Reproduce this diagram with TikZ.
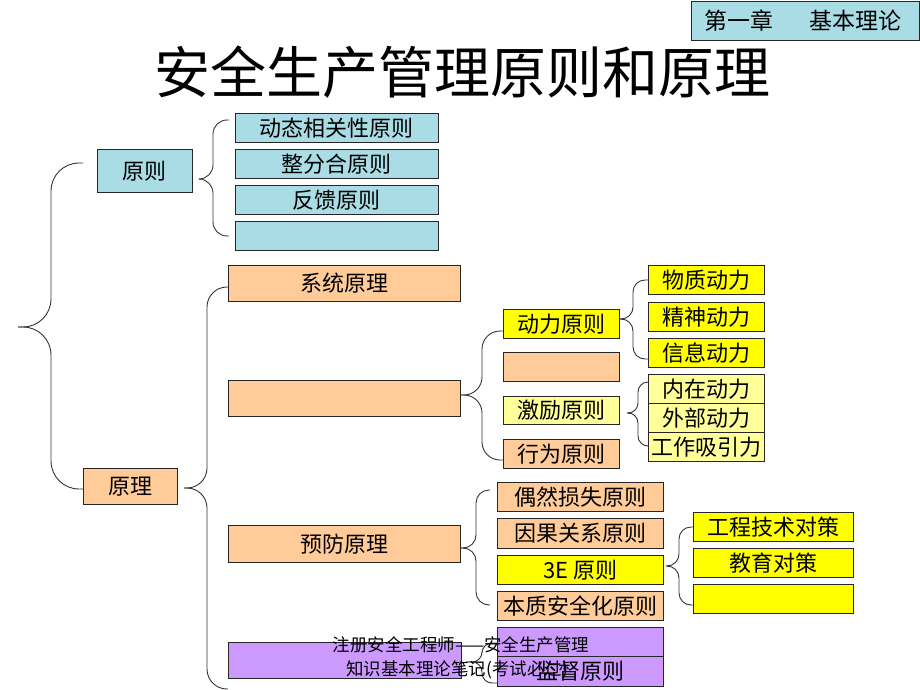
\documentclass[tikz,border=0pt]{standalone}
\usepackage{fontspec}
\setmainfont{Noto Sans CJK SC}
\definecolor{cblue}{HTML}{A9DCE4}
\definecolor{corange}{HTML}{FFCC99}
\definecolor{cyellow}{HTML}{FFFF00}
\definecolor{clyellow}{HTML}{FFFF99}
\definecolor{cpurple}{HTML}{CC99FF}
\tikzset{
  box/.style={draw=black!85, line width=0.8pt, inner sep=0pt, anchor=north west,
    font=\fontsize{22}{26}\selectfont},
  bluebox/.style={box, fill=cblue},
  orangebox/.style={box, fill=corange},
  yellowbox/.style={box, fill=cyellow},
  lyellowbox/.style={box, fill=clyellow},
  purplebox/.style={box, fill=cpurple},
  bracepath/.style={draw=black!80, line width=0.9pt},
}
\begin{document}
\begin{tikzpicture}[x=1pt,y=-1pt]
\useasboundingbox (0,0) rectangle (920,690);
\fill[white] (0,0) rectangle (920,690);

% header
\node[bluebox, minimum width=228, minimum height=39] (hdr) at (691,1) {};
\node[anchor=west, inner sep=0pt, font=\fontsize{23}{26}\selectfont] (hdrtext) at (704,21) {第一章\hspace{36pt}基本理论};

% title
\node[font=\fontsize{56}{60}\selectfont, inner sep=0pt] (title) at (462,72) {安全生产管理原则和原理};

% principles
\node[bluebox, minimum width=95, minimum height=43] (yuanze) at (97,149) {原则};
\node[bluebox, minimum width=203, minimum height=29] (b1) at (235,113) {动态相关性原则};
\node[bluebox, minimum width=203, minimum height=29] (b2) at (235,149) {整分合原则};
\node[bluebox, minimum width=203, minimum height=29] (b3) at (235,185) {反馈原则};
\node[bluebox, minimum width=203, minimum height=29] (b4) at (235,221) {};

% theory
\node[orangebox, minimum width=94, minimum height=36] (yuanli) at (83,468) {原理};
\node[orangebox, minimum width=232, minimum height=36] (xitong) at (228,265) {系统原理};
\node[orangebox, minimum width=232, minimum height=36] (oempty) at (228,380) {};
\node[orangebox, minimum width=232, minimum height=37] (yufang) at (228,525) {预防原理};
\node[purplebox, minimum width=233, minimum height=36] (pempty) at (228,642) {};

% level 3 under empty orange
\node[yellowbox, minimum width=116, minimum height=29] (dongli) at (503,309) {动力原则};
\node[orangebox, minimum width=116, minimum height=29] (oe2) at (503,352) {};
\node[lyellowbox, minimum width=116, minimum height=28] (jili) at (503,396) {激励原则};
\node[orangebox, minimum width=116, minimum height=29] (xingwei) at (503,439) {行为原则};

% level 4
\node[yellowbox, minimum width=116, minimum height=29] (wz) at (648,265) {物质动力};
\node[yellowbox, minimum width=116, minimum height=29] (js) at (648,302) {精神动力};
\node[yellowbox, minimum width=116, minimum height=29] (xx) at (648,338) {信息动力};
\node[lyellowbox, minimum width=116, minimum height=29] (nz) at (648,374) {内在动力};
\node[lyellowbox, minimum width=116, minimum height=29] (wb) at (648,403) {外部动力};
\node[lyellowbox, minimum width=116, minimum height=29] (gz) at (648,432) {工作吸引力};

% prevention children
\node[orangebox, minimum width=166, minimum height=29] (ou) at (497,482) {偶然损失原则};
\node[orangebox, minimum width=166, minimum height=30] (yg) at (497,518) {因果关系原则};
\node[yellowbox, minimum width=166, minimum height=29] (e3) at (497,555) {3E 原则};
\node[orangebox, minimum width=166, minimum height=29] (bz) at (497,591) {本质安全化原则};
\node[purplebox, minimum width=166, minimum height=29] (pa) at (497,627) {};
\node[purplebox, minimum width=166, minimum height=30] (pb) at (497,656) {监督原则};

% 3E children
\node[yellowbox, minimum width=160, minimum height=29] (gc) at (693,512) {工程技术对策};
\node[yellowbox, minimum width=160, minimum height=29] (jy) at (693,548) {教育对策};
\node[yellowbox, minimum width=160, minimum height=29] (ey) at (693,584) {};

% brace coordinates
\coordinate (bgT) at (83,163);  \coordinate (bgB) at (83,489);  \coordinate (bgTip) at (18,327);
\coordinate (yzT) at (229,120); \coordinate (yzB) at (229,236); \coordinate (yzTip) at (199,179);
\coordinate (ylT) at (228,287); \coordinate (ylB) at (228,689); \coordinate (ylTip) at (184,488);
\coordinate (oeT) at (503,331); \coordinate (oeB) at (503,460); \coordinate (oeTip) at (460,395);
\coordinate (dlT) at (648,280); \coordinate (dlB) at (648,359); \coordinate (dlTip) at (619,319);
\coordinate (jlT) at (648,382); \coordinate (jlB) at (648,446); \coordinate (jlTip) at (627,413);
\coordinate (yfT) at (490,490); \coordinate (yfB) at (490,605); \coordinate (yfTip) at (461,548);
\coordinate (eT) at (694,527);  \coordinate (eB) at (694,605);  \coordinate (eTip) at (666,566);
\coordinate (pT) at (497,643);  \coordinate (pB) at (497,683);  \coordinate (pTip) at (466,662);

\draw[bracepath, rounded corners=28] (bgT) -| (51,327) -- (bgTip);
\draw[bracepath, rounded corners=28] (bgB) -| (51,327) -- (bgTip);
\draw[bracepath, rounded corners=14] (yzT) -| (213,179) -- (yzTip);
\draw[bracepath, rounded corners=14] (yzB) -| (213,179) -- (yzTip);
\draw[bracepath, rounded corners=20] (ylT) -| (207,488) -- (ylTip);
\draw[bracepath, rounded corners=20] (ylB) -| (207,488) -- (ylTip);
\draw[bracepath, rounded corners=18] (oeT) -| (482,395) -- (oeTip);
\draw[bracepath, rounded corners=18] (oeB) -| (482,395) -- (oeTip);
\draw[bracepath, rounded corners=12] (dlT) -| (633,319) -- (dlTip);
\draw[bracepath, rounded corners=12] (dlB) -| (633,319) -- (dlTip);
\draw[bracepath, rounded corners=10] (jlT) -| (638,413) -- (jlTip);
\draw[bracepath, rounded corners=10] (jlB) -| (638,413) -- (jlTip);
\draw[bracepath, rounded corners=13] (yfT) -| (476,548) -- (yfTip);
\draw[bracepath, rounded corners=13] (yfB) -| (476,548) -- (yfTip);
\draw[bracepath, rounded corners=12] (eT) -| (679,566) -- (eTip);
\draw[bracepath, rounded corners=12] (eB) -| (679,566) -- (eTip);
\draw[bracepath, rounded corners=10] (pT) -| (482,662) -- (pTip);
\draw[bracepath, rounded corners=10] (pB) -| (482,662) -- (pTip);

% footer
\node[inner sep=0pt, font=\fontsize{17.5}{20}\selectfont] (foot1) at (461,645) {注册安全工程师——安全生产管理};
\node[inner sep=0pt, font=\fontsize{17.5}{20}\selectfont] (foot2) at (457,670) {知识基本理论笔记(考试必过)};
\end{tikzpicture}
\end{document}
